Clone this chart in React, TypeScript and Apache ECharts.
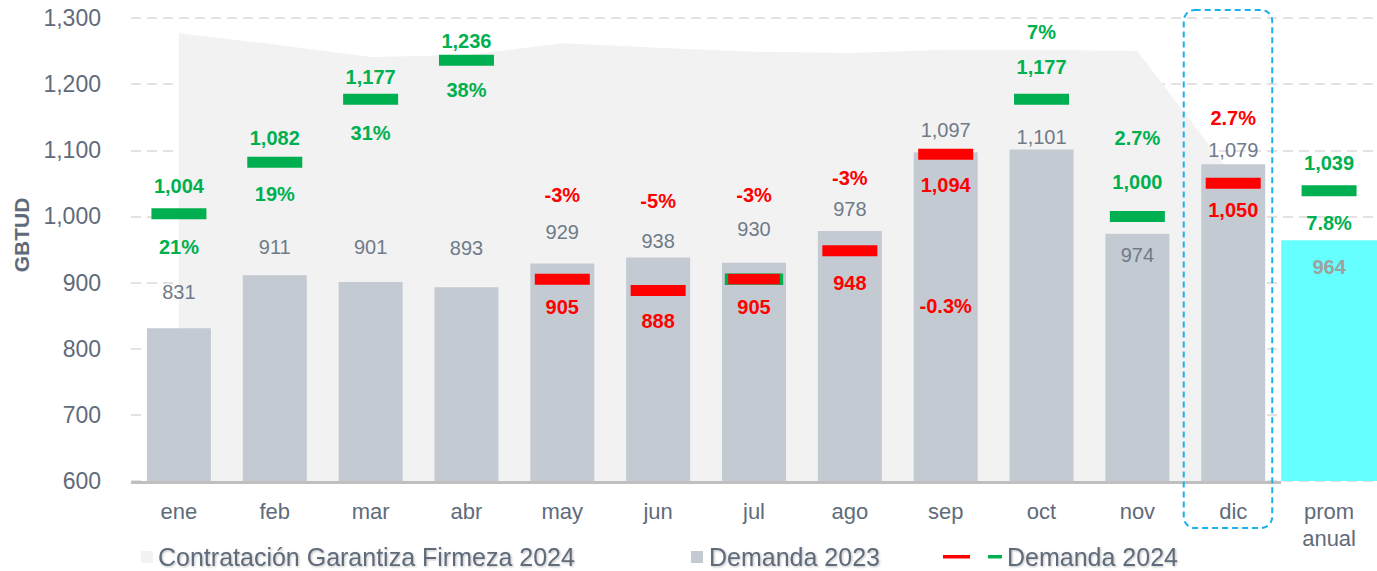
import React, { useEffect, useRef } from 'react';
import * as echarts from 'echarts';

// ---------- data ----------
const categories = ['ene', 'feb', 'mar', 'abr', 'may', 'jun', 'jul', 'ago', 'sep', 'oct', 'nov', 'dic', 'prom\nanual'];
const contratacion2024 = [1277, 1260, 1241, 1244, 1262, 1255, 1249, 1247, 1252, 1252, 1250, 1060];
const demanda2023 = [831, 911, 901, 893, 929, 938, 930, 978, 1097, 1101, 974, 1079];
const promAnual2023 = 964;
const demanda2024 = [1004, 1082, 1177, 1236, 905, 888, 905, 948, 1094, 1177, 1000, 1050, 1039];
const variacion = ['21%', '19%', '31%', '38%', '-3%', '-5%', '-3%', '-3%', '-0.3%', '7%', '2.7%', '2.7%', '7.8%'];
const yMin = 600;
const yMax = 1300;
const yStep = 100;

// ---------- label layout (pixels, relative to each mark) ----------
const valueLabelDy = [-28, -24, -22, -19, 28, 30, 28, 32, 31, -32, -34, 27, -28];
const pctLabelDy = [33, 32, 34, 30, -84, -90, -84, -73, 152, -67, -78, -65, 32];
const barLabelDy = [-36, -28, -35, -39, -31, -16, -34, -22, -22, -13, 21, -14, 27];

const GREEN = '#00b050';
const RED = '#ff0000';
const TEXT = '#5f6b7a';
const FONT = '"Liberation Sans", Arial, sans-serif';

const fmt = (v: number) => v.toLocaleString('en-US');

export default function App() {
  const ref = useRef<HTMLDivElement>(null);

  useEffect(() => {
    if (!ref.current) return;
    const chart = echarts.init(ref.current, undefined, { renderer: 'svg' });

    const n = categories.length;
    const base2023 = [...demanda2023, promAnual2023];
    const colors = demanda2024.map((v, i) => (v >= base2023[i] ? GREEN : RED));

    const barData = categories.map((_, i) =>
      i < demanda2023.length
        ? {
            value: demanda2023[i],
            label: { offset: [0, barLabelDy[i]] },
          }
        : '-'
    );
    const promData = categories.map((_, i) =>
      i === n - 1 ? { value: promAnual2023, label: { offset: [0, barLabelDy[i]] } } : '-'
    );

    const markerData = demanda2024.map((v, i) => ({
      value: v,
      itemStyle: {
        color: colors[i],
        opacity: 1,
        borderColor: i === 6 ? GREEN : colors[i],
        borderWidth: i === 6 ? 1.5 : 0,
      },
      label: { color: colors[i], offset: [0, valueLabelDy[i]] },
    }));
    const pctData = demanda2024.map((v, i) => ({
      value: v,
      label: { color: colors[i], offset: [0, pctLabelDy[i]], formatter: variacion[i] },
    }));

    chart.setOption({
      animation: false,
      textStyle: { fontFamily: FONT },
      grid: { left: 131, right: 0, top: 18, bottom: 90, containLabel: false },
      xAxis: [
        {
          type: 'category',
          data: categories,
          axisLine: { show: false },
          axisTick: { show: false },
          axisLabel: { color: TEXT, fontSize: 22, margin: 17, lineHeight: 27, fontFamily: FONT },
        },
        { type: 'category', data: categories, show: false },
      ],
      yAxis: {
        type: 'value',
        min: yMin,
        max: yMax,
        interval: yStep,
        axisLine: { show: false },
        axisTick: { show: false },
        axisLabel: { color: TEXT, fontSize: 23, margin: 30, formatter: (v: number) => fmt(v), fontFamily: FONT },
        splitLine: { lineStyle: { color: '#d9d9d9', width: 1.5, type: [10, 6] } },
      },
      series: [
        {
          name: 'Contratación Garantiza Firmeza 2024',
          type: 'line',
          data: contratacion2024,
          symbol: 'none',
          lineStyle: { width: 0 },
          itemStyle: { color: '#f2f2f2' },
          areaStyle: { color: '#f2f2f2', opacity: 1, origin: 'start' },
          z: 1,
        },
        {
          name: 'Demanda 2023',
          type: 'bar',
          xAxisIndex: 0,
          data: barData,
          barWidth: 64,
          itemStyle: { color: '#c3cad2' },
          label: {
            show: true,
            position: ['50%', 0],
            align: 'center',
            verticalAlign: 'middle',
            color: '#6f7b89',
            fontSize: 20,
            fontFamily: FONT,
            formatter: (p: any) => fmt(p.value),
          },
          z: 2,
        },
        {
          name: 'prom',
          type: 'bar',
          xAxisIndex: 1,
          data: promData,
          barWidth: '100%',
          itemStyle: { color: '#66ffff' },
          label: {
            show: true,
            position: ['50%', 0],
            align: 'center',
            verticalAlign: 'middle',
            color: '#a0a0a0',
            fontSize: 20,
            fontWeight: 'bold',
            fontFamily: FONT,
            formatter: (p: any) => fmt(p.value),
          },
          z: 2,
        },
        {
          name: 'Demanda 2024',
          type: 'scatter',
          data: markerData,
          symbol: 'rect',
          symbolSize: [55, 11],
          itemStyle: { opacity: 1 },
          label: {
            show: true,
            position: 'inside',
            align: 'center',
            verticalAlign: 'middle',
            fontSize: 20,
            fontWeight: 'bold',
            fontFamily: FONT,
            formatter: (p: any) => fmt(p.value),
          },
          z: 5,
        },
        {
          name: 'variacion',
          type: 'scatter',
          data: pctData,
          symbol: 'rect',
          symbolSize: 1,
          itemStyle: { color: 'rgba(0,0,0,0)', opacity: 1 },
          label: {
            show: true,
            position: 'inside',
            align: 'center',
            verticalAlign: 'middle',
            fontSize: 20,
            fontWeight: 'bold',
            fontFamily: FONT,
          },
          z: 5,
        },
      ],
    });

    // decorations positioned from the axes
    const x0 = chart.convertToPixel({ xAxisIndex: 0 }, categories[0]) as number;
    const x1 = chart.convertToPixel({ xAxisIndex: 0 }, categories[1]) as number;
    const band = x1 - x0;
    const xDic = chart.convertToPixel({ xAxisIndex: 0 }, categories[11]) as number;
    const yBase = chart.convertToPixel({ yAxisIndex: 0 }, yMin) as number;
    const gridLeft = x0 - band / 2;
    const lineEnd = xDic + band / 2;

    const legendText = {
      fill: TEXT,
      fontSize: 25,
      fontFamily: FONT,
      verticalAlign: 'middle',
      textShadowColor: 'rgba(0,0,0,0.25)',
      textShadowBlur: 2,
      textShadowOffsetX: 1,
      textShadowOffsetY: 1,
    };

    chart.setOption({
      graphic: [
        {
          type: 'line',
          shape: { x1: gridLeft, y1: yBase + 1.5, x2: lineEnd, y2: yBase + 1.5 },
          style: { stroke: '#bfbfbf', lineWidth: 3 },
          z: 10,
        },
        {
          type: 'rect',
          shape: { x: xDic - 49.5, y: 10, width: 88.5, height: 518, r: 11 },
          style: { fill: 'none', stroke: '#1ab0ef', lineWidth: 2, lineDash: [6, 4] },
          z: 10,
        },
        {
          type: 'text',
          x: 21,
          y: 235,
          rotation: Math.PI / 2,
          style: { text: 'GBTUD', fill: TEXT, fontSize: 21, fontWeight: 'bold', fontFamily: FONT, align: 'center', verticalAlign: 'middle' },
        },
        { type: 'rect', shape: { x: 141, y: 551, width: 12, height: 12 }, style: { fill: '#f2f2f2' } },
        { type: 'text', x: 158, y: 557, style: { ...legendText, text: 'Contratación Garantiza Firmeza 2024' } },
        { type: 'rect', shape: { x: 691, y: 551, width: 12, height: 12 }, style: { fill: '#c3cad2' } },
        { type: 'text', x: 709, y: 557, style: { ...legendText, text: 'Demanda 2023' } },
        { type: 'rect', shape: { x: 943, y: 555, width: 27, height: 3.5 }, style: { fill: RED } },
        { type: 'rect', shape: { x: 988, y: 555, width: 14, height: 3.5 }, style: { fill: GREEN } },
        { type: 'text', x: 1007, y: 557, style: { ...legendText, text: 'Demanda 2024' } },
      ],
    });

    return () => chart.dispose();
  }, []);

  return (
    <div
      ref={ref}
      style={{ position: 'fixed', left: 0, top: 0, width: 1377, height: 571, background: '#ffffff' }}
    />
  );
}
